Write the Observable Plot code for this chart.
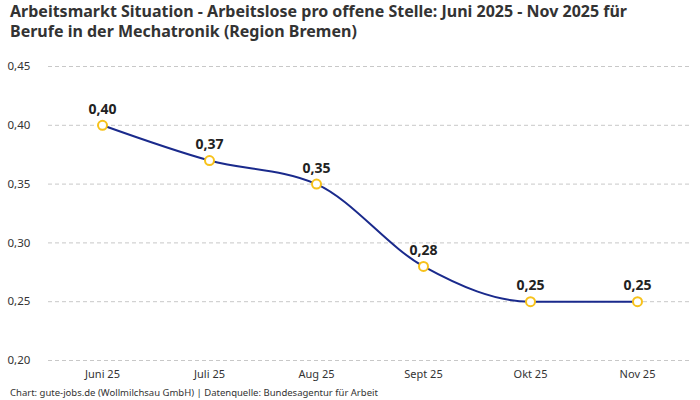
<!DOCTYPE html>
<html>
<head>
<meta charset="utf-8">
<script src="https://cdn.jsdelivr.net/npm/d3@7"></script>
<script src="https://cdn.jsdelivr.net/npm/@observablehq/plot@0.6"></script>
<style>
  html, body { margin: 0; padding: 0; background: #fff; }
  body { width: 700px; height: 400px; overflow: hidden; font-family: "Noto Sans", sans-serif; }
  #title { height: 44px; box-sizing: border-box; padding: 1px 10px 0 10px; font-size: 16px; font-weight: bold; line-height: 20px; color: #333; }
  #caption { padding-left: 10px; font-size: 9.5px; line-height: 14px; color: #333; }
  #chart svg { display: block; }
</style>
</head>
<body>
<div id="title">Arbeitsmarkt Situation - Arbeitslose pro offene Stelle: Juni 2025 - Nov 2025 für<br>Berufe in der Mechatronik (Region Bremen)</div>
<div id="chart"></div>
<div id="caption">Chart: gute-jobs.de (Wollmilchsau GmbH) | Datenquelle: Bundesagentur für Arbeit</div>
<script>
const months = ["Juni 25", "Juli 25", "Aug 25", "Sept 25", "Okt 25", "Nov 25"];
const values = [0.40, 0.37, 0.35, 0.28, 0.25, 0.25];
const yTicks = [0.20, 0.25, 0.30, 0.35, 0.40, 0.45];

const data = months.map((m, i) => ({month: m, value: values[i]}));
const fmt = v => v.toFixed(2).replace(".", ",");

const chart = Plot.plot({
  width: 700,
  height: 342,
  marginTop: 22,
  marginBottom: 26,
  marginLeft: 48,
  marginRight: 10,
  style: {fontFamily: "Noto Sans, sans-serif", fontSize: "11px", color: "#333"},
  x: {type: "point", domain: months, padding: 0.5, label: null},
  y: {domain: [0.20, 0.45], label: null},
  marks: [
    Plot.gridY(yTicks, {stroke: "#c8c8c8", strokeOpacity: 1, strokeDasharray: "4,3"}),
    Plot.axisY(yTicks, {tickSize: 0, tickFormat: fmt, textAnchor: "start", dx: -32, fill: "#333", fontSize: 11.5}),
    Plot.axisX({tickSize: 0, tickPadding: 10, fill: "#333", fontSize: 11}),
    Plot.line(data, {x: "month", y: "value", stroke: "#1a2a8c", strokeWidth: 2, curve: "monotone-x"}),
    Plot.dot(data, {x: "month", y: "value", r: 4.5, fill: "white", stroke: "#f7c21b", strokeWidth: 2}),
    Plot.text(data, {x: "month", y: "value", text: d => fmt(d.value), dy: -16, fontSize: 14, fontWeight: "bold", fill: "#222"})
  ]
});
document.getElementById("chart").appendChild(chart);
</script>
</body>
</html>
